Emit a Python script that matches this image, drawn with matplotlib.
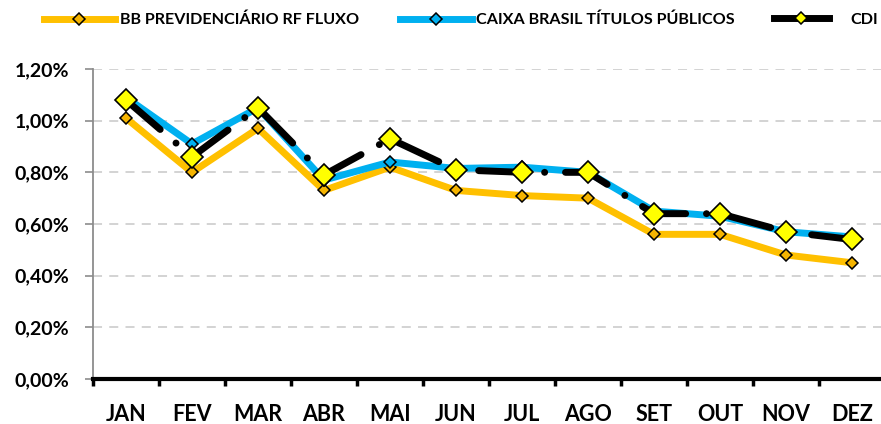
import matplotlib
matplotlib.use("Agg")
import matplotlib.pyplot as plt
from matplotlib.lines import Line2D
from matplotlib.ticker import FuncFormatter, MultipleLocator

# ── DATA (% ao mês) ───────────────────────────────────────────────────────────
meses = ["JAN", "FEV", "MAR", "ABR", "MAI", "JUN",
         "JUL", "AGO", "SET", "OUT", "NOV", "DEZ"]
bb_prev = [1.01, 0.80, 0.97, 0.73, 0.82, 0.73, 0.71, 0.70, 0.56, 0.56, 0.48, 0.45]
caixa   = [1.09, 0.91, 1.05, 0.77, 0.84, 0.815, 0.82, 0.80, 0.65, 0.63, 0.57, 0.55]
cdi     = [1.08, 0.86, 1.05, 0.79, 0.93, 0.81, 0.80, 0.80, 0.64, 0.64, 0.57, 0.54]

nomes = ["BB PREVIDENCIÁRIO RF FLUXO", "CAIXA BRASIL TÍTULOS PÚBLICOS", "CDI"]

# ── STYLE ─────────────────────────────────────────────────────────────────────
LARANJA = "#FFC000"
LARANJA_MK = "#F5B400"
AZUL = "#00B0F0"
AMARELO = "#FFFF00"
FONTE = ["Lato", "DejaVu Sans"]

fig = plt.figure(figsize=(8.81, 4.24), dpi=100)
ax = fig.add_axes([93 / 881, 45 / 424, 792 / 881, 310 / 424])

x = list(range(len(meses)))

ax.plot(x, bb_prev, color=LARANJA, lw=5, solid_joinstyle="round",
        marker="D", ms=6.5, mfc=LARANJA_MK, mec="black", mew=1.1,
        zorder=3, clip_on=False)
ax.plot(x, caixa, color=AZUL, lw=5, solid_joinstyle="round",
        marker="D", ms=6.5, mfc=AZUL, mec="black", mew=1.1,
        zorder=4, clip_on=False)
cdi_line, = ax.plot(x, cdi, color="black", lw=5,
                    marker="D", ms=10.7, mfc=AMARELO, mec="black", mew=1.2,
                    zorder=5, clip_on=False)
cdi_line.set_dashes([6.5, 3.0, 0.01, 3.0])
cdi_line.set_dash_capstyle("round")

# ── AXES ──────────────────────────────────────────────────────────────────────
ax.set_xlim(-0.5, len(meses) - 0.5)
ax.set_ylim(0, 1.2)
ax.yaxis.set_major_locator(MultipleLocator(0.2))
ax.yaxis.set_major_formatter(FuncFormatter(lambda v, p: f"{v:.2f}%".replace(".", ",")))

ax.set_xticks(x)
ax.set_xticklabels(meses)
ax.set_xticks([i - 0.5 for i in range(len(meses) + 1)], minor=True)
ax.tick_params(axis="x", which="major", length=0, pad=18)
ax.tick_params(axis="x", which="minor", length=5, width=2.5, color="black",
               direction="out")
for lbl in ax.get_xticklabels():
    lbl.set_fontfamily(FONTE)
    lbl.set_fontweight("bold")
    lbl.set_fontsize(15.5)

ax.tick_params(axis="y", length=6, width=1.2, color="#8C8C8C", pad=11)
for lbl in ax.get_yticklabels():
    lbl.set_fontfamily(FONTE)
    lbl.set_fontweight("bold")
    lbl.set_fontsize(14)

ax.grid(axis="y", color="#D0D0D0", lw=1.3, linestyle=(0, (5, 4)), zorder=0)
ax.set_axisbelow(True)

for s in ["top", "right"]:
    ax.spines[s].set_visible(False)
ax.spines["left"].set_color("#8C8C8C")
ax.spines["left"].set_linewidth(1.3)
ax.spines["bottom"].set_color("black")
ax.spines["bottom"].set_linewidth(3)
ax.spines["bottom"].set_zorder(6)

# ── LEGEND (one entry each, placed like the original) ─────────────────────────
handles = [
    Line2D([], [], color=LARANJA, lw=5, marker="D", ms=6, mfc=LARANJA_MK,
           mec="black", mew=1.1),
    Line2D([], [], color=AZUL, lw=5, marker="D", ms=6, mfc=AZUL,
           mec="black", mew=1.1),
    Line2D([], [], color="black", lw=5, marker="D", ms=6, mfc=AMARELO,
           mec="black", mew=1.1),
]
leg_x = [44 / 881, 400 / 881, 774 / 881]
leg_len = [4.4, 4.45, 3.4]
leg_pad = [0.3, 0.25, 1.35]
for h, nome, lx, hl, tp in zip(handles, nomes, leg_x, leg_len, leg_pad):
    fig.legend([h], [nome], loc="center left", bbox_to_anchor=(lx, 0.953),
               frameon=False, borderpad=0, borderaxespad=0,
               handlelength=hl, handletextpad=tp,
               prop={"family": FONTE, "weight": "bold", "size": 11.6})

fig.savefig("out.png", dpi=100)
